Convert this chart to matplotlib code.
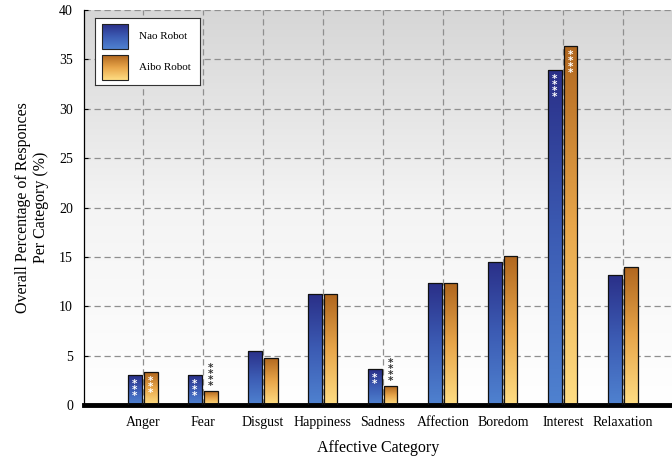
import numpy as np
import matplotlib
matplotlib.use("Agg")
import matplotlib.pyplot as plt
from matplotlib.colors import LinearSegmentedColormap
from matplotlib.patches import Rectangle

categories = ["Anger", "Fear", "Disgust", "Happiness", "Sadness",
              "Affection", "Boredom", "Interest", "Relaxation"]
nao = [3.0, 3.0, 5.5, 11.2, 3.6, 12.35, 14.5, 33.9, 13.2]
aibo = [3.3, 1.4, 4.8, 11.2, 1.9, 12.35, 15.1, 36.4, 14.0]
nao_sig = ["***", "***", "", "", "**", "", "", "****", ""]
aibo_sig = ["***", "****", "", "", "****", "", "", "****", ""]
yticks = [0, 5, 10, 15, 20, 25, 30, 35, 40]

plt.rcParams['font.family'] = ['Liberation Serif', 'DejaVu Serif']

fig = plt.figure(figsize=(6.72, 4.61), dpi=100)
ax = fig.add_axes([0.125, 0.1215, 0.875, 0.8565])

x = np.arange(len(categories))
w = 0.23
off = 0.13

blue_cmap = LinearSegmentedColormap.from_list("b", ["#4f82d0", "#3c5cb4", "#2a2f88"])
orange_cmap = LinearSegmentedColormap.from_list("o", ["#ffde84", "#e8a64a", "#b0661e"])
grad = np.linspace(0, 1, 256).reshape(-1, 1)

# background gradient
bg = LinearSegmentedColormap.from_list("bg", ["#ffffff", "#f4f4f4", "#d6d6d6"])
ax.imshow(grad, cmap=bg, aspect='auto', extent=[0, 1, 0, 1], transform=ax.transAxes,
          origin='lower', zorder=0)

ax.set_xlim(-0.98, 8.82)
ax.set_ylim(0, 40)

for v in yticks[1:]:
    ax.axhline(v, color="#8f8f8f", lw=0.9, ls=(0, (5, 3)), zorder=1)
for xi in x:
    ax.axvline(xi, color="#8f8f8f", lw=0.9, ls=(0, (5, 3)), zorder=1)

def grad_bars(xs, vals, cmap):
    bars = ax.bar(xs, vals, width=w, color="none", edgecolor="#111111", lw=0.9, zorder=3)
    for b in bars:
        x0, y0 = b.get_x(), b.get_y()
        bw, bh = b.get_width(), b.get_height()
        im = ax.imshow(grad, cmap=cmap, aspect='auto', origin='lower',
                       extent=[x0, x0 + bw, y0, y0 + bh], zorder=2)
        im.set_clip_path(b)
    return bars

grad_bars(x - off, nao, blue_cmap)
grad_bars(x + off, aibo, orange_cmap)
ax.set_xlim(-0.98, 8.82)
ax.set_ylim(0, 40)

def stars(xp, yp, s, color, va):
    ax.text(xp, yp, "\n".join(s), color=color, ha="center", va=va, fontsize=7.5,
            fontweight="bold", linespacing=0.5, fontfamily="DejaVu Sans", zorder=4)

for i in range(len(categories)):
    if nao_sig[i]:
        stars(x[i] - off, nao[i] - 0.4, nao_sig[i], "white", "top")
    if aibo_sig[i]:
        if aibo[i] > 2.5:
            stars(x[i] + off, aibo[i] - 0.4, aibo_sig[i], "white", "top")
        else:
            stars(x[i] + off, aibo[i] + 0.05, aibo_sig[i], "#333333", "bottom")

ax.set_xticks(x)
ax.set_xticklabels(categories, fontsize=10)
ax.set_yticks(yticks)
ax.set_yticklabels([str(v) for v in yticks], fontsize=10)
ax.tick_params(axis='x', length=0, pad=8)
ax.tick_params(axis='y', length=3, direction='in', pad=8)

for s in ["top", "right"]:
    ax.spines[s].set_visible(False)
ax.spines["left"].set_linewidth(0.9)
ax.spines["bottom"].set_linewidth(3.5)

ax.set_xlabel("Affective Category", fontsize=11.5, labelpad=8)
ax.set_ylabel("Overall Percentage of Responces\nPer Category (%)", fontsize=11.5, labelpad=7)

# legend with gradient patches
lax = fig.add_axes([0.142, 0.815, 0.155, 0.145])
lax.set_xticks([])
lax.set_yticks([])
for s in lax.spines.values():
    s.set_linewidth(0.8)
    s.set_color("#333333")
lax.set_facecolor("white")
lax.set_zorder(5)
for yy, cmap, lab in [(0.55, blue_cmap, "Nao Robot"), (0.08, orange_cmap, "Aibo Robot")]:
    lax.imshow(grad, cmap=cmap, aspect='auto', origin='lower',
               extent=[0.06, 0.31, yy, yy + 0.37], zorder=2)
    lax.add_patch(Rectangle((0.06, yy), 0.25, 0.37, fill=False, ec="#222222", lw=0.8, zorder=3))
    lax.text(0.42, yy + 0.185, lab, va="center", ha="left", fontsize=8)
lax.set_xlim(0, 1)
lax.set_ylim(0, 1)

fig.savefig("out.png", dpi=100)
